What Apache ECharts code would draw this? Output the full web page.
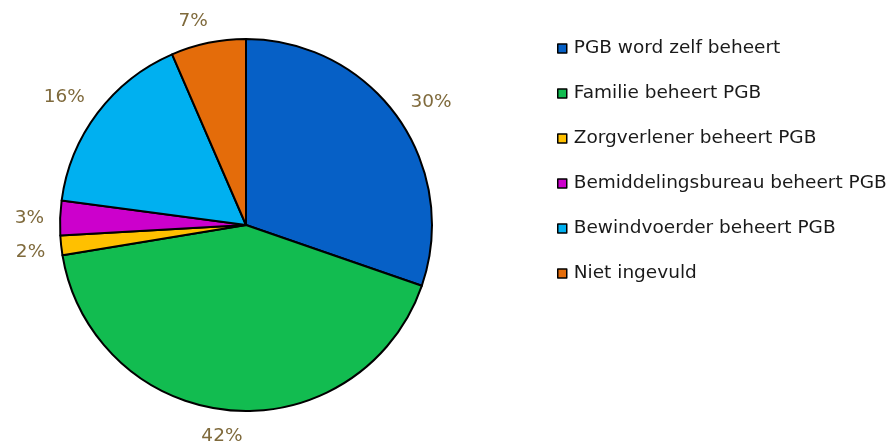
<!DOCTYPE html>
<html>
<head>
<meta charset="utf-8">
<script src="https://cdn.jsdelivr.net/npm/echarts@6/dist/echarts.min.js"></script>
<style>
  html, body { margin: 0; padding: 0; background: #fff; }
  #chart { width: 890px; height: 443px; }
</style>
</head>
<body>
<div id="chart"></div>
<script>
const categories = [
  'PGB word zelf beheert',
  'Familie beheert PGB',
  'Zorgverlener beheert PGB',
  'Bemiddelingsbureau beheert PGB',
  'Bewindvoerder beheert PGB',
  'Niet ingevuld'
];
const values = [30.3, 42.1, 1.7, 3.0, 16.4, 6.5];
const labels = ['30%', '42%', '2%', '3%', '16%', '7%'];
const colors = ['#0660C6', '#12BC50', '#FFC000', '#CC00CC', '#00B0F0', '#E46C0A'];

const CX = 246, CY = 225, R = 186, GAP = 16;

const total = values.reduce((a, b) => a + b, 0);
// middle angle of each slice (degrees, counter-clockwise from 3 o'clock)
const midAngles = [];
let acc = 0;
values.forEach(v => {
  midAngles.push(90 - 360 * (acc + v / 2) / total);
  acc += v;
});

const clamp = t => Math.max(-1, Math.min(1, t));

const chart = echarts.init(document.getElementById('chart'));

const data = categories.map((name, i) => ({
  name,
  value: values[i],
  itemStyle: { color: colors[i] }
}));

chart.setOption({
  animation: false,
  legend: {
    orient: 'vertical',
    left: 552,
    top: 34,
    icon: 'rect',
    itemWidth: 9,
    itemHeight: 9,
    itemGap: 26,
    itemStyle: { borderColor: '#000', borderWidth: 1.5 },
    textStyle: {
      fontFamily: 'DejaVu Sans',
      fontSize: 18.5,
      color: '#1a1a1a',
      lineHeight: 18,
      padding: [0, 0, 0, 2]
    },
    data: categories
  },
  series: [{
    type: 'pie',
    center: [CX, CY],
    radius: R,
    startAngle: 90,
    clockwise: true,
    data,
    itemStyle: { borderColor: '#000', borderWidth: 2 },
    label: {
      show: true,
      position: 'outside',
      overflow: 'none',
      formatter: p => labels[p.dataIndex],
      fontFamily: 'DejaVu Sans',
      fontSize: 18.5,
      color: '#7F6A3C'
    },
    labelLine: { show: false },
    // anchor the label box just outside the slice, pushed away from the pie
    labelLayout: params => {
      const a = midAngles[params.dataIndex] * Math.PI / 180;
      const c = Math.cos(a), s = Math.sin(a);
      const hw = params.labelRect.width / 2;
      const hh = params.labelRect.height * 0.4;
      const d = R + GAP;
      return {
        x: CX + d * c + hw * clamp(4 * c),
        y: CY - d * s - hh * clamp(4 * s) + 2,
        align: 'center',
        verticalAlign: 'middle'
      };
    }
  }]
});
</script>
</body>
</html>
